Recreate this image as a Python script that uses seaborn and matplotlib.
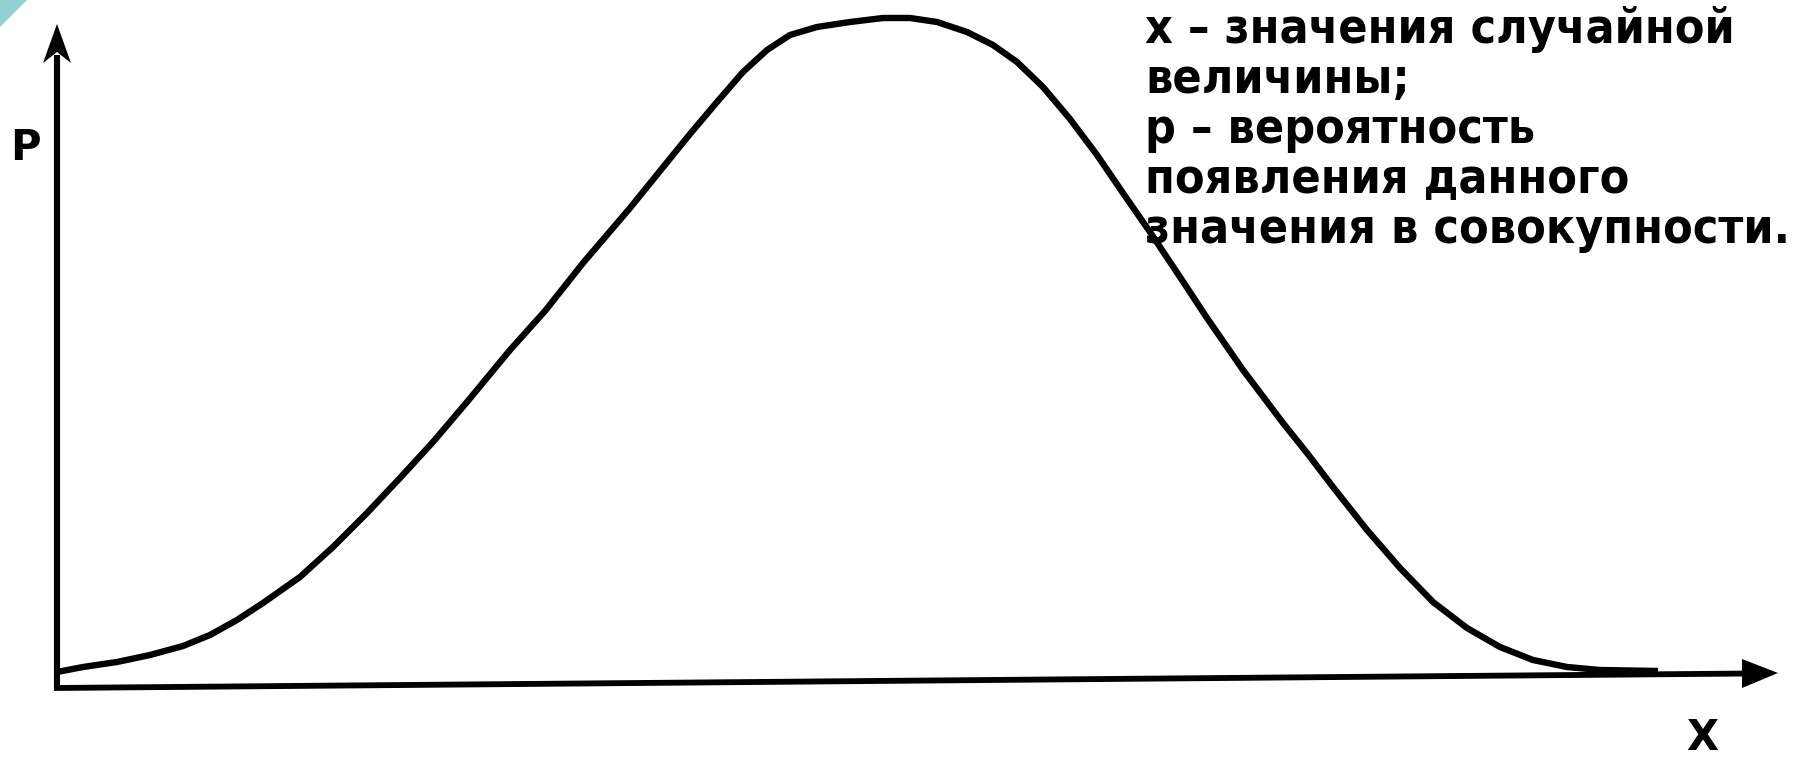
import numpy as np
import pandas as pd
import matplotlib
matplotlib.use("Agg")
import matplotlib.pyplot as plt
from matplotlib.patches import Polygon
import seaborn as sns

# curve: x position and its height (pixel-like units, from top)
x_vals = [57, 83, 117, 150, 183, 210, 237, 263, 300, 333, 367, 400, 433,
          467, 510, 545, 583, 630, 677, 690, 717, 743, 767, 790, 817, 850,
          883, 910, 937, 967, 993, 1017, 1043, 1070, 1097, 1125, 1150, 1180,
          1207, 1243, 1283, 1307, 1333, 1367, 1400, 1433, 1467, 1500, 1533,
          1567, 1600, 1658]
y_px = [672, 667, 662, 655, 646, 635, 620, 603, 577, 547, 513, 478, 442,
        402, 350, 311, 263, 208, 150, 134, 102, 72, 50, 35, 27, 22,
        18, 18, 22, 32, 45, 62, 87, 119, 155, 196, 232, 277,
        318, 370, 423, 453, 487, 530, 568, 602, 628, 647, 660,
        667, 670, 671]

legend_lines = ["x – значения случайной",
                "величины;",
                "р – вероятность",
                "появления данного",
                "значения в совокупности."]
y_label = "P"
x_label = "X"

sns.set_style("white")
plt.rcParams["font.family"] = ["DejaVu Sans"]
plt.rcParams["text.color"] = "black"

W, H = 1793, 760
fig = plt.figure(figsize=(W / 100, H / 100), dpi=100)
ax = fig.add_axes([0, 0, 1, 1])
ax.set_xlim(0, W)
ax.set_ylim(H, 0)
ax.axis("off")

# teal corner
ax.add_patch(Polygon([[0, 0], [27, 0], [0, 27]], closed=True,
                     facecolor="#93d0d2", edgecolor="none"))

df = pd.DataFrame({"x": x_vals, "p": y_px})
sns.lineplot(data=df, x="x", y="p", color="black", linewidth=4.6,
             sort=False, estimator=None, ax=ax, zorder=3)
ax.lines[-1].set_solid_capstyle("butt")
ax.lines[-1].set_solid_joinstyle("round")

# axes with arrow heads
ax.plot([57, 57], [690, 55], color="black", lw=4.4, solid_capstyle="butt")
ax.add_patch(Polygon([[57, 24], [43, 63], [57, 52], [71, 63]], closed=True,
                     facecolor="black", edgecolor="none"))
ax.plot([54, 1750], [688, 673.5], color="black", lw=4.2, solid_capstyle="butt")
ax.add_patch(Polygon([[1778, 673], [1742, 659], [1742, 688]], closed=True,
                     facecolor="black", edgecolor="none"))

ax.text(25, 160, y_label, fontsize=30, fontweight="bold",
        ha="center", va="baseline", color="black")
ax.text(1702, 759, x_label, fontsize=30, fontweight="bold",
        ha="center", va="bottom", color="black")

# fit the text block to the width seen in the reference
texts = []
for i, line in enumerate(legend_lines):
    t = ax.text(1145, 43 + 50 * i, line, fontsize=34, fontweight="bold",
                fontstretch="condensed", ha="left", va="baseline",
                color="black", zorder=5)
    texts.append(t)
fig.canvas.draw()
r = fig.canvas.get_renderer()
widest = max(t.get_window_extent(r).width for t in texts)
scale = 645 / widest
for t in texts:
    t.set_fontsize(34 * scale)

fig.savefig("out.png", dpi=100)
